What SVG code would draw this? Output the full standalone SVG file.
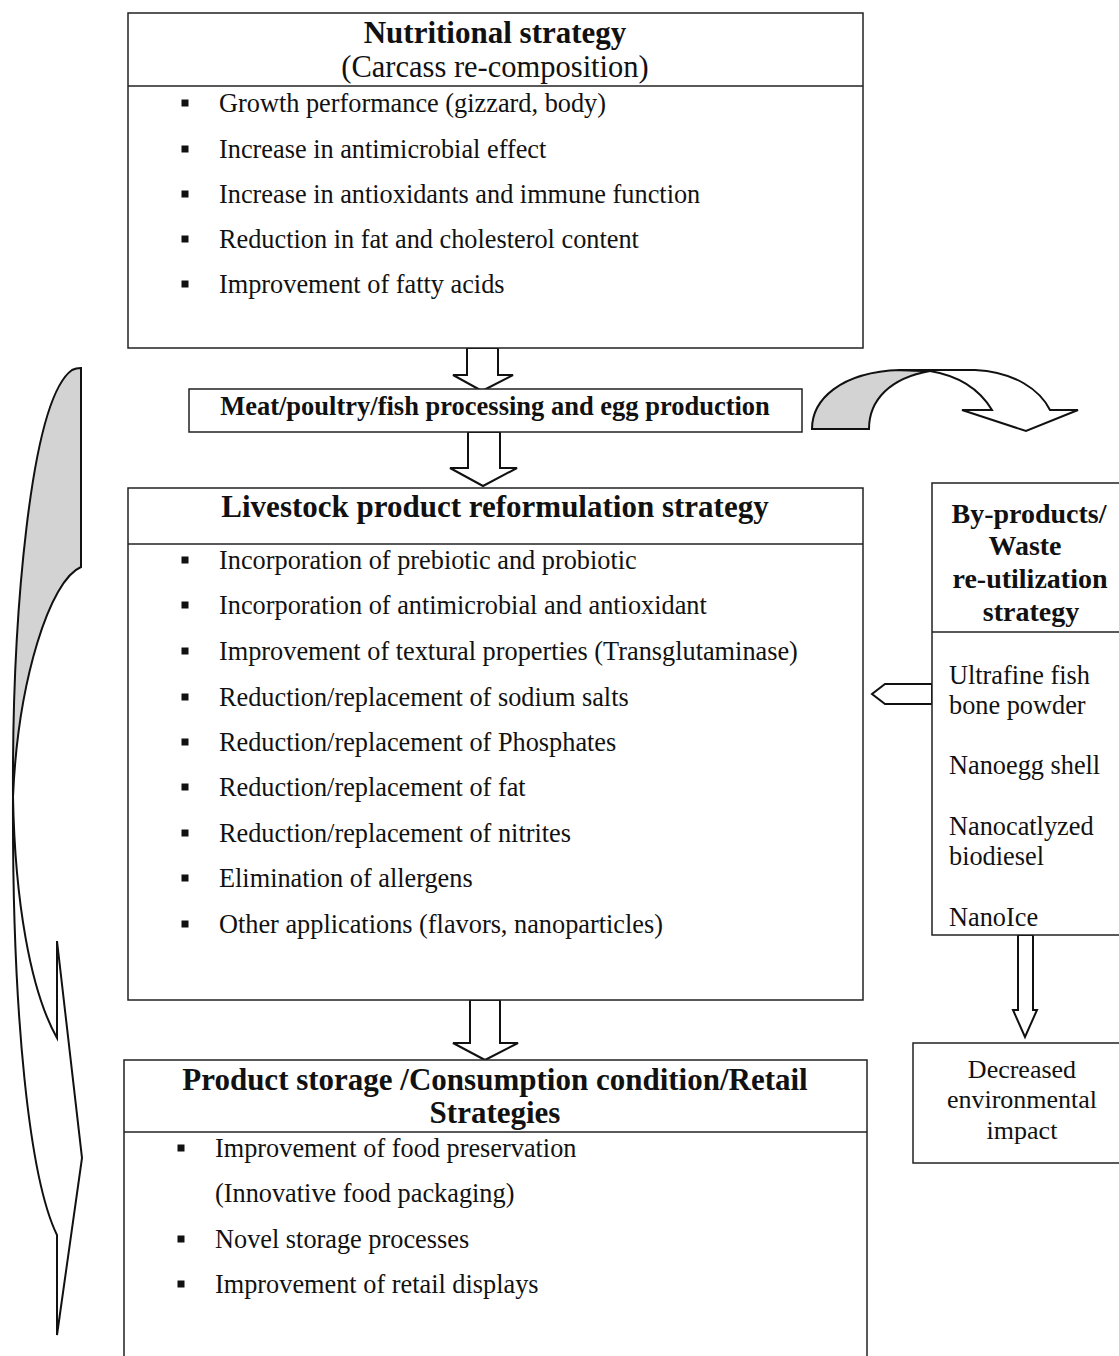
<svg xmlns="http://www.w3.org/2000/svg" width="1119" height="1356" viewBox="0 0 1119 1356">
<style>
.box{fill:#fff;stroke:#222;stroke-width:1.5}
.ln{stroke:#222;stroke-width:1.5}
.blk{fill:#fff;stroke:#111;stroke-width:2;stroke-linejoin:miter}
.gry{fill:#d3d3d3;stroke:#111;stroke-width:2}
.wht{fill:#fff;stroke:#111;stroke-width:2}
text{font-family:"Liberation Serif","Times New Roman",serif;fill:#111}
.t{font-size:31px;font-weight:bold;text-anchor:middle}
.s{font-size:30.5px;text-anchor:middle}
.b{font-size:26.3px}
.m{font-size:26.5px;font-weight:bold;text-anchor:middle}
.h{font-size:28px;font-weight:bold;text-anchor:middle}
.c{font-size:26px;text-anchor:middle}
.bul{fill:#111}
</style>
<defs>
<rect id="sq" class="bul" x="-3.5" y="-3.5" width="7" height="7"/>
</defs>
<rect width="1119" height="1356" fill="#fff"/>

<g id="connectors">
<path class="gry" d="M81,368 L81,567 C50,580 18,680 13,797 C12,620 30,400 72,370 C76,368 79,368 81,368 Z"/>
<path class="wht" d="M13,797 C15,900 30,990 57,1038 L57,941 L82,1158 L57,1335 L57,1235 C30,1180 12,1020 13,797 Z"/>
<path class="gry" d="M812,429 C812,400 840,372 900,370 L930,371 C890,378 869,400 869,429 Z"/>
<path class="wht" d="M930,371 L900,370 L975,370 C1015,372 1040,390 1050,410 L1078,410 L1026,431 L962,410 L992,410 C980,390 960,376 930,371 Z"/>
<polygon class="blk" points="467,348 498,348 498,375 513,375 482,391 453,375 467,375"/>
<polygon class="blk" points="468,432 500,432 500,468 517,468 483,486 450,468 468,468"/>
<polygon class="blk" points="470,1000 500,1000 500,1043 518,1043 485,1060 453,1043 470,1043"/>
<polygon class="blk" points="932,684 885,684 872,694 885,704 932,704"/>
<polygon class="blk" points="1018,935 1033,935 1033,1010 1037,1010 1025,1037 1013,1010 1018,1010"/>
</g>

<g id="nutritional">
<rect class="box" x="128" y="13" width="735" height="335"/>
<line class="ln" x1="128" y1="86" x2="863" y2="86"/>
<text class="t" x="495" y="43">Nutritional strategy</text>
<text class="s" x="495" y="77">(Carcass re-composition)</text>
<use href="#sq" x="185" y="103"/><text class="b" x="219" y="112">Growth performance (gizzard, body)</text>
<use href="#sq" x="185" y="149"/><text class="b" x="219" y="158">Increase in antimicrobial effect</text>
<use href="#sq" x="185" y="194"/><text class="b" x="219" y="203">Increase in antioxidants and immune function</text>
<use href="#sq" x="185" y="239"/><text class="b" x="219" y="248">Reduction in fat and cholesterol content</text>
<use href="#sq" x="185" y="284"/><text class="b" x="219" y="293">Improvement of fatty acids</text>
</g>

<g id="processing">
<rect class="box" x="189" y="389" width="613" height="43"/>
<text class="m" x="495" y="415">Meat/poultry/fish processing and egg production</text>
</g>

<g id="livestock">
<rect class="box" x="128" y="488" width="735" height="512"/>
<line class="ln" x1="128" y1="544" x2="863" y2="544"/>
<text class="t" x="495" y="517">Livestock product reformulation strategy</text>
<use href="#sq" x="185" y="560"/><text class="b" x="219" y="569">Incorporation of prebiotic and probiotic</text>
<use href="#sq" x="185" y="605"/><text class="b" x="219" y="614">Incorporation of antimicrobial and antioxidant</text>
<use href="#sq" x="185" y="651"/><text class="b" x="219" y="660">Improvement of textural properties (Transglutaminase)</text>
<use href="#sq" x="185" y="697"/><text class="b" x="219" y="706">Reduction/replacement of sodium salts</text>
<use href="#sq" x="185" y="742"/><text class="b" x="219" y="751">Reduction/replacement of Phosphates</text>
<use href="#sq" x="185" y="787"/><text class="b" x="219" y="796">Reduction/replacement of fat</text>
<use href="#sq" x="185" y="833"/><text class="b" x="219" y="842">Reduction/replacement of nitrites</text>
<use href="#sq" x="185" y="878"/><text class="b" x="219" y="887">Elimination of allergens</text>
<use href="#sq" x="185" y="924"/><text class="b" x="219" y="933">Other applications (flavors, nanoparticles)</text>
</g>

<g id="storage">
<rect class="box" x="124" y="1060" width="743" height="310"/>
<line class="ln" x1="124" y1="1132" x2="867" y2="1132"/>
<text class="t" x="495" y="1090">Product storage /Consumption condition/Retail</text>
<text class="t" x="495" y="1123">Strategies</text>
<use href="#sq" x="181" y="1148"/><text class="b" x="215" y="1157">Improvement of food preservation</text>
<text class="b" x="215" y="1202">(Innovative food packaging)</text>
<use href="#sq" x="181" y="1239"/><text class="b" x="215" y="1248">Novel storage processes</text>
<use href="#sq" x="181" y="1284"/><text class="b" x="215" y="1293">Improvement of retail displays</text>
</g>

<g id="byproducts">
<rect class="box" x="932" y="483" width="200" height="452"/>
<line class="ln" x1="932" y1="632" x2="1119" y2="632"/>
<text class="h" x="1029" y="523">By-products/</text>
<text class="h" x="1025" y="555">Waste</text>
<text class="h" x="1030" y="588">re-utilization</text>
<text class="h" x="1031" y="621">strategy</text>
<text class="b" x="949" y="684">Ultrafine fish</text>
<text class="b" x="949" y="714">bone powder</text>
<text class="b" x="949" y="774">Nanoegg shell</text>
<text class="b" x="949" y="835">Nanocatlyzed</text>
<text class="b" x="949" y="865">biodiesel</text>
<text class="b" x="949" y="926">NanoIce</text>
</g>

<g id="environment">
<rect class="box" x="913" y="1043" width="220" height="120"/>
<text class="c" x="1022" y="1078">Decreased</text>
<text class="c" x="1022" y="1108">environmental</text>
<text class="c" x="1022" y="1139">impact</text>
</g>
</svg>
